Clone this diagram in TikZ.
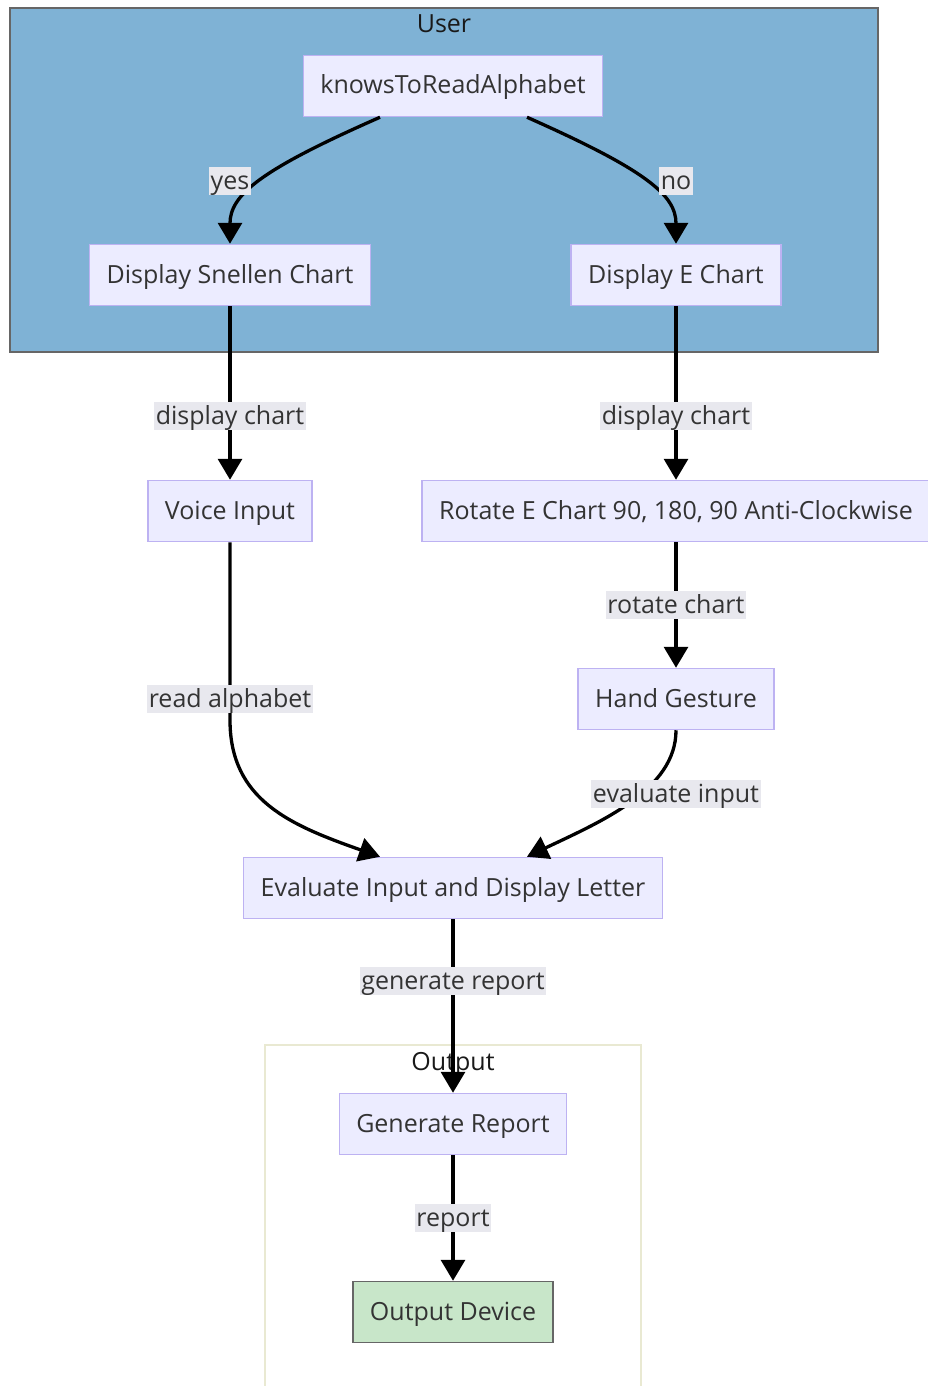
\documentclass[tikz,border=0pt]{standalone}
\usepackage{fontspec}
\setmainfont{Open Sans}
\usetikzlibrary{arrows.meta}
\definecolor{userblue}{HTML}{7FB2D5}
\definecolor{boxfill}{HTML}{ECECFF}
\definecolor{boxline}{HTML}{BDB2F2}
\definecolor{devfill}{HTML}{C8E6C9}
\definecolor{lblfill}{HTML}{E8E8EE}
\definecolor{txt}{HTML}{333333}
\definecolor{outline}{HTML}{E9E9D2}
\tikzset{
  base/.style={text=txt,font=\fontsize{25}{30}\selectfont,text height=20pt,text depth=4pt},
  proc/.style={base,draw=boxline,fill=boxfill,line width=1.5pt,minimum height=61pt,inner xsep=17pt},
  device/.style={proc,draw=black!60,fill=devfill},
  lbl/.style={base,fill=lblfill,inner xsep=1.5pt,inner ysep=2pt},
  title/.style={base,text=black!90},
  flow/.style={line width=3.3pt,-{Triangle[width=24pt,length=21pt]}}
}
\begin{document}
\begin{tikzpicture}[x=1pt,y=-1pt]
\fill[white] (0,0) rectangle (928,1386);
\useasboundingbox (0,0) rectangle (928,1386);
\draw[fill=userblue,draw=black!60,line width=1.5pt] (10,8) rectangle (878,352);
\node[title] (user) at (444,25) {User};
\draw[draw=outline,line width=1.5pt] (265,1045) rectangle (641,1400);
\node[title] (output) at (453,1062) {Output};

\node[proc] (knows) at (453,86) {knowsToReadAlphabet};
\node[proc] (snellen) at (230,275) {Display Snellen Chart};
\node[proc] (echart) at (676,275) {Display E Chart};
\node[proc] (voice) at (230,511) {Voice Input};
\node[proc] (rotate) at (676,511) {Rotate E Chart 90, 180, 90 Anti-Clockwise};
\node[proc] (hand) at (676,699) {Hand Gesture};
\node[proc] (evaluate) at (453,888) {Evaluate Input and Display Letter};
\node[proc] (report) at (453,1124) {Generate Report};
\node[device] (dev) at (453,1312) {Output Device};

\draw[flow] ([xshift=-73pt]knows.south) .. controls (260,170) and (230,195) .. (snellen.north);
\draw[flow] ([xshift=74pt]knows.south) .. controls (646,170) and (676,195) .. (echart.north);
\draw[flow] (snellen) -- (voice);
\draw[flow] (echart) -- (rotate);
\draw[flow] (rotate) -- (hand);
\draw[flow] (voice.south) -- (230,720) .. controls (230,800) and (290,825) .. ([xshift=-73pt]evaluate.north);
\draw[flow] (hand.south) .. controls (676,790) and (600,822) .. ([xshift=74pt]evaluate.north);
\draw[flow] (evaluate) -- (report);
\draw[flow] (report) -- (dev);

\node[lbl] (yes) at (230,181) {yes};
\node[lbl] (no) at (676,181) {no};
\node[lbl] (disp1) at (230,416) {display chart};
\node[lbl] (disp2) at (676,416) {display chart};
\node[lbl] (rot) at (676,605) {rotate chart};
\node[lbl] (read) at (230,699) {read alphabet};
\node[lbl] (evin) at (676,794) {evaluate input};
\node[lbl] (gen) at (453,981) {generate report};
\node[lbl] (rep) at (453,1218) {report};
\end{tikzpicture}
\end{document}
